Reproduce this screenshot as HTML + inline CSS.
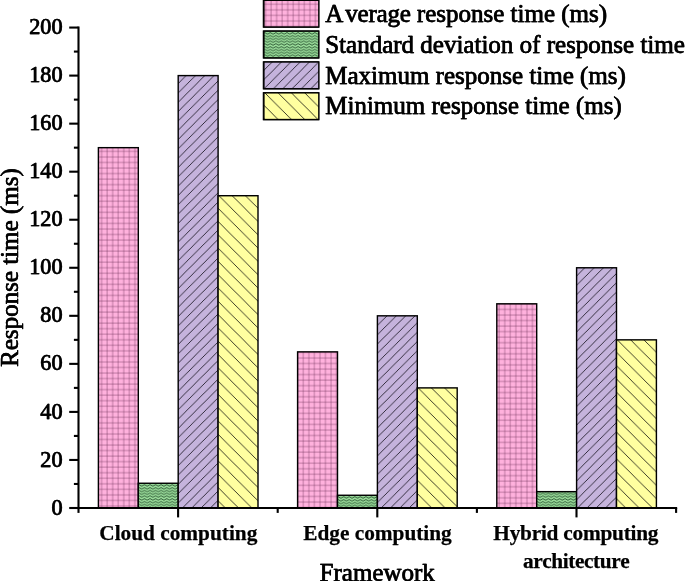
<!DOCTYPE html>
<html lang="en"><head><meta charset="utf-8"><title>Response time by framework</title>
<style>
html,body{margin:0;padding:0;background:#fff;}
body{width:685px;height:581px;overflow:hidden;}
svg{display:block;}
text{font-family:"Liberation Serif","Times New Roman",serif;fill:#000;font-kerning:none;font-feature-settings:"kern" 0,"liga" 0;stroke:#000;stroke-width:0.35px;stroke-linejoin:round;}
.tick{font-size:22.2px;}
.cat{font-size:21.3px;font-weight:bold;stroke-width:0.25px;}
.big{font-size:25px;}
</style></head><body>
<svg width="685" height="581" viewBox="0 0 685 581">
<defs>
<pattern id="p00" patternUnits="userSpaceOnUse" width="5.54" height="5.54" x="0.88" y="0.82"><rect width="5.54" height="5.54" fill="#FFB1DD"/><path d="M1 0V5.54M0 1H5.54" stroke="#64284e" stroke-opacity="0.6" stroke-width="0.7" fill="none"/></pattern>
<pattern id="p01" patternUnits="userSpaceOnUse" width="5.56" height="2.78" x="5.46" y="0.44"><rect width="5.56" height="2.78" fill="#9CDE9C"/><path d="M-0.3 0.35 L0 0.5 L2.78 2.15 L5.56 0.5 L5.86 0.35" stroke="#173f20" stroke-width="0.8" fill="none"/></pattern>
<pattern id="p02" patternUnits="userSpaceOnUse" width="9.32" height="9.32" x="0.79" y="0"><rect width="9.32" height="9.32" fill="#C5B3DC"/><path d="M-1 1L1 -1M-1 10.32L10.32 -1M8.32 10.32L10.32 8.32" stroke="#201c28" stroke-width="0.88" fill="none"/></pattern>
<pattern id="p03" patternUnits="userSpaceOnUse" width="13.3" height="13.3" x="9.89" y="0"><rect width="13.3" height="13.3" fill="#FFFFA0"/><path d="M-1 -1L14.3 14.3M12.3 -1L14.3 1M-1 12.3L1 14.3" stroke="#222216" stroke-width="0.88" fill="none"/></pattern>
<pattern id="p10" patternUnits="userSpaceOnUse" width="5.54" height="5.54" x="3.14" y="2.39"><rect width="5.54" height="5.54" fill="#FFB1DD"/><path d="M1 0V5.54M0 1H5.54" stroke="#64284e" stroke-opacity="0.6" stroke-width="0.7" fill="none"/></pattern>
<pattern id="p11" patternUnits="userSpaceOnUse" width="5.56" height="2.78" x="4.50" y="1.33"><rect width="5.56" height="2.78" fill="#9CDE9C"/><path d="M-0.3 0.35 L0 0.5 L2.78 2.15 L5.56 0.5 L5.86 0.35" stroke="#173f20" stroke-width="0.8" fill="none"/></pattern>
<pattern id="p12" patternUnits="userSpaceOnUse" width="9.32" height="9.32" x="3.82" y="0"><rect width="9.32" height="9.32" fill="#C5B3DC"/><path d="M-1 1L1 -1M-1 10.32L10.32 -1M8.32 10.32L10.32 8.32" stroke="#201c28" stroke-width="0.88" fill="none"/></pattern>
<pattern id="p13" patternUnits="userSpaceOnUse" width="13.3" height="13.3" x="3.61" y="0"><rect width="13.3" height="13.3" fill="#FFFFA0"/><path d="M-1 -1L14.3 14.3M12.3 -1L14.3 1M-1 12.3L1 14.3" stroke="#222216" stroke-width="0.88" fill="none"/></pattern>
<pattern id="p20" patternUnits="userSpaceOnUse" width="5.54" height="5.54" x="5.14" y="3.75"><rect width="5.54" height="5.54" fill="#FFB1DD"/><path d="M1 0V5.54M0 1H5.54" stroke="#64284e" stroke-opacity="0.6" stroke-width="0.7" fill="none"/></pattern>
<pattern id="p21" patternUnits="userSpaceOnUse" width="5.56" height="2.78" x="3.54" y="0.51"><rect width="5.56" height="2.78" fill="#9CDE9C"/><path d="M-0.3 0.35 L0 0.5 L2.78 2.15 L5.56 0.5 L5.86 0.35" stroke="#173f20" stroke-width="0.8" fill="none"/></pattern>
<pattern id="p22" patternUnits="userSpaceOnUse" width="9.32" height="9.32" x="4.46" y="0"><rect width="9.32" height="9.32" fill="#C5B3DC"/><path d="M-1 1L1 -1M-1 10.32L10.32 -1M8.32 10.32L10.32 8.32" stroke="#201c28" stroke-width="0.88" fill="none"/></pattern>
<pattern id="p23" patternUnits="userSpaceOnUse" width="13.3" height="13.3" x="11.45" y="0"><rect width="13.3" height="13.3" fill="#FFFFA0"/><path d="M-1 -1L14.3 14.3M12.3 -1L14.3 1M-1 12.3L1 14.3" stroke="#222216" stroke-width="0.88" fill="none"/></pattern>
<pattern id="pL0" patternUnits="userSpaceOnUse" width="5.54" height="5.54" x="3.72" y="3.30"><rect width="5.54" height="5.54" fill="#FFB1DD"/><path d="M1 0V5.54M0 1H5.54" stroke="#64284e" stroke-opacity="0.6" stroke-width="0.7" fill="none"/></pattern>
<pattern id="pL1" patternUnits="userSpaceOnUse" width="5.56" height="2.78" x="2.98" y="1.47"><rect width="5.56" height="2.78" fill="#9CDE9C"/><path d="M-0.3 0.35 L0 0.5 L2.78 2.15 L5.56 0.5 L5.86 0.35" stroke="#173f20" stroke-width="0.8" fill="none"/></pattern>
<pattern id="pL2" patternUnits="userSpaceOnUse" width="9.32" height="9.32" x="7.55" y="0"><rect width="9.32" height="9.32" fill="#C5B3DC"/><path d="M-1 1L1 -1M-1 10.32L10.32 -1M8.32 10.32L10.32 8.32" stroke="#201c28" stroke-width="0.88" fill="none"/></pattern>
<pattern id="pL3" patternUnits="userSpaceOnUse" width="13.3" height="13.3" x="11.90" y="0"><rect width="13.3" height="13.3" fill="#FFFFA0"/><path d="M-1 -1L14.3 14.3M12.3 -1L14.3 1M-1 12.3L1 14.3" stroke="#222216" stroke-width="0.88" fill="none"/></pattern>
</defs>
<rect width="685" height="581" fill="#fff"/>

<g stroke="#000" stroke-width="1.42" stroke-linejoin="miter">
<rect x="98.40" y="147.67" width="39.90" height="360.33" fill="url(#p00)"/>
<rect x="138.30" y="483.26" width="39.90" height="24.74" fill="url(#p01)"/>
<rect x="178.20" y="75.60" width="39.90" height="432.40" fill="url(#p02)"/>
<rect x="218.10" y="195.71" width="39.90" height="312.29" fill="url(#p03)"/>
<rect x="297.60" y="351.86" width="39.90" height="156.14" fill="url(#p10)"/>
<rect x="337.50" y="495.27" width="39.90" height="12.73" fill="url(#p11)"/>
<rect x="377.40" y="315.82" width="39.90" height="192.18" fill="url(#p12)"/>
<rect x="417.30" y="387.89" width="39.90" height="120.11" fill="url(#p13)"/>
<rect x="496.80" y="303.81" width="39.90" height="204.19" fill="url(#p20)"/>
<rect x="536.70" y="491.67" width="39.90" height="16.33" fill="url(#p21)"/>
<rect x="576.60" y="267.78" width="39.90" height="240.22" fill="url(#p22)"/>
<rect x="616.50" y="339.85" width="39.90" height="168.15" fill="url(#p23)"/>
</g>
<g stroke="#000" stroke-width="2.10" fill="none" stroke-linecap="butt">
<path d="M78.50 26.51 V509.05"/>
<path d="M77.45 508.00 H677.15"/>
<path d="M69.20 508.00 H78.50"/>
<path d="M73.90 483.98 H78.50"/>
<path d="M69.20 459.96 H78.50"/>
<path d="M73.90 435.93 H78.50"/>
<path d="M69.20 411.91 H78.50"/>
<path d="M73.90 387.89 H78.50"/>
<path d="M69.20 363.87 H78.50"/>
<path d="M73.90 339.85 H78.50"/>
<path d="M69.20 315.82 H78.50"/>
<path d="M73.90 291.80 H78.50"/>
<path d="M69.20 267.78 H78.50"/>
<path d="M73.90 243.76 H78.50"/>
<path d="M69.20 219.74 H78.50"/>
<path d="M73.90 195.71 H78.50"/>
<path d="M69.20 171.69 H78.50"/>
<path d="M73.90 147.67 H78.50"/>
<path d="M69.20 123.65 H78.50"/>
<path d="M73.90 99.63 H78.50"/>
<path d="M69.20 75.60 H78.50"/>
<path d="M73.90 51.58 H78.50"/>
<path d="M69.20 27.56 H78.50"/>
<path d="M78.50 508.00 V512.90"/>
<path d="M178.10 508.00 V517.40"/>
<path d="M277.70 508.00 V512.90"/>
<path d="M377.30 508.00 V517.40"/>
<path d="M476.90 508.00 V512.90"/>
<path d="M576.50 508.00 V517.40"/>
<path d="M676.10 508.00 V512.90"/>
</g>
<g opacity="0.999"><g id="hx">
<text class="tick" x="62.3" y="514.60" text-anchor="end">0</text>
<text class="tick" x="62.3" y="466.56" text-anchor="end">20</text>
<text class="tick" x="62.3" y="418.51" text-anchor="end">40</text>
<text class="tick" x="62.3" y="370.47" text-anchor="end">60</text>
<text class="tick" x="62.3" y="322.42" text-anchor="end">80</text>
<text class="tick" x="62.3" y="274.38" text-anchor="end">100</text>
<text class="tick" x="62.3" y="226.34" text-anchor="end">120</text>
<text class="tick" x="62.3" y="178.29" text-anchor="end">140</text>
<text class="tick" x="62.3" y="130.25" text-anchor="end">160</text>
<text class="tick" x="62.3" y="82.20" text-anchor="end">180</text>
<text class="tick" x="62.3" y="34.16" text-anchor="end">200</text>
<text class="big" x="377" y="580.5" text-anchor="middle">Framework</text>
<g stroke="#000" stroke-width="1.42">
<rect x="263.45" y="0.30" width="54.95" height="26.7" fill="url(#pL0)"/>
<rect x="263.45" y="31.15" width="54.95" height="26.7" fill="url(#pL1)"/>
<rect x="263.45" y="62.00" width="54.95" height="26.7" fill="url(#pL2)"/>
<rect x="263.45" y="92.85" width="54.95" height="26.7" fill="url(#pL3)"/>
</g>
<text class="big" x="325" y="22.10">A<tspan dx="2.0" letter-spacing="-0.2">verage</tspan><tspan dx="-0.1"> response time (ms)</tspan></text>
<text class="big" x="325" y="52.80">Standard deviation of response time</text>
<text class="big" x="325" y="83.50">Maximum response time (ms)</text>
<text class="big" x="325" y="114.20">Minimum response time (ms)</text>
</g><use href="#hx" x="0.45"/>
<text class="cat" x="178.30" y="540.3" text-anchor="middle">Cloud computing</text>
<text class="cat" x="377.50" y="540.3" text-anchor="middle">Edge computing</text>
<text class="cat" x="575.80" y="540.3" text-anchor="middle" letter-spacing="-0.23">Hybrid computing</text>
<text class="cat" x="576.10" y="567.9" text-anchor="middle" letter-spacing="-0.4">architecture</text>
<g id="vx"><text class="big" transform="translate(18.0,267.6) rotate(-90)" text-anchor="middle">Response time (ms)</text></g><use href="#vx" y="-0.25"/>
</g>
</svg></body></html>
